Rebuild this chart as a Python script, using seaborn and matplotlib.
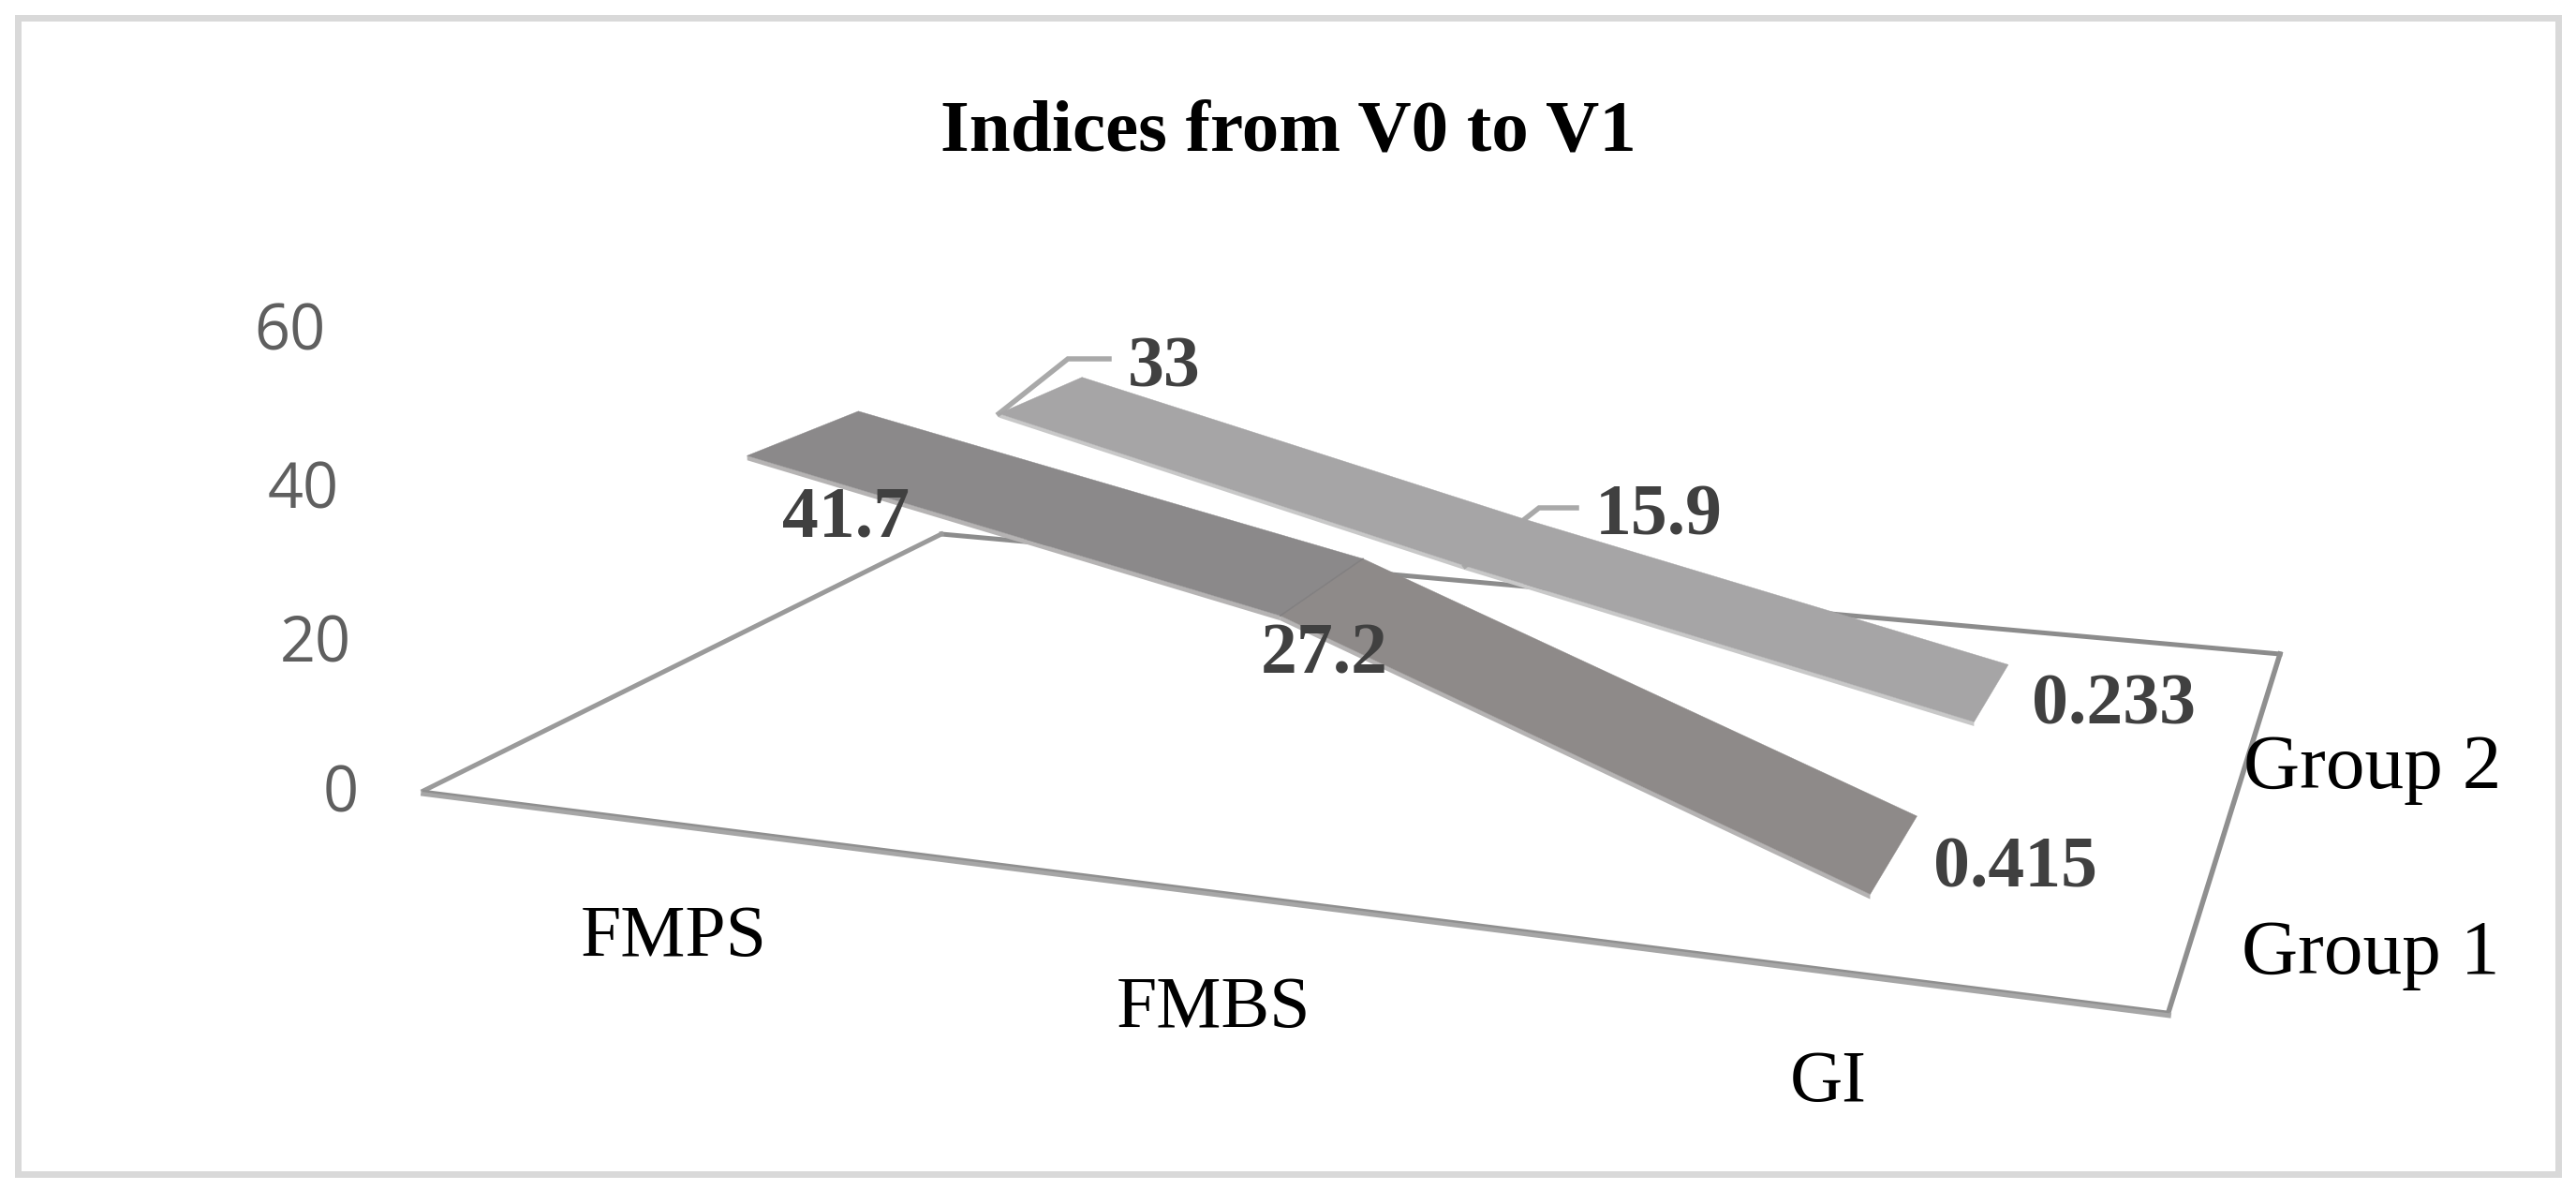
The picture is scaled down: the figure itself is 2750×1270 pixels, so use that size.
import numpy as np
import pandas as pd
import matplotlib
matplotlib.use("Agg")
import matplotlib.pyplot as plt
import seaborn as sns

# ---- data ----
title = "Indices from V0 to V1"
categories = ["FMPS", "FMBS", "GI"]
groups = ["Group 1", "Group 2"]
group1_values = [41.7, 27.2, 0.415]
group2_values = [33, 15.9, 0.233]
value_ticks = [0, 20, 40, 60]

# ---- perspective of the 3-D chart box (floor corners and vanishing point, pixels) ----
W, H = 2750, 1270
FL, FR, BR, BL = (452, 844), (2315, 1080), (2434, 698), (1005, 570)
VP = (1650.0, 14000.0)
C = -0.000602


def homography(p0, p1, p2, p3):
    x0, y0 = p0; x1, y1 = p1; x2, y2 = p2; x3, y3 = p3
    sx, sy = x0 - x1 + x2 - x3, y0 - y1 + y2 - y3
    dx1, dx2, dy1, dy2 = x1 - x2, x3 - x2, y1 - y2, y3 - y2
    den = dx1 * dy2 - dx2 * dy1
    g = (sx * dy2 - dx2 * sy) / den
    h = (dx1 * sy - sx * dy1) / den
    return np.array([[x1 - x0 + g * x1, x3 - x0 + h * x3, x0],
                     [y1 - y0 + g * y1, y3 - y0 + h * y3, y0],
                     [g, h, 1.0]])


HM = homography(FL, FR, BR, BL)
VEC = np.array([VP[0], VP[1], 1.0]) * C


def project(u, v, val=0.0):
    p = HM @ np.array([u, v, 1.0]) + VEC * val
    return p[0] / p[2], p[1] / p[2]


def cat_u(i):
    return (i + 0.5) / len(categories)


group_v = [0.265, 0.762]
half_depth = 0.102
thick = 0.6

sns.set_theme(style="white")
plt.rcParams["font.family"] = ["Liberation Serif", "DejaVu Serif"]
fig = plt.figure(figsize=(W / 100, H / 100), dpi=100, facecolor="white")
ax = fig.add_axes([0, 0, 1, 1])
ax.set_xlim(0, W)
ax.set_ylim(H, 0)
ax.axis("off")
PX = 0.72


def line(points, color, px, z):
    xs, ys = zip(*points)
    df = pd.DataFrame({"x": xs, "y": ys, "o": range(len(xs))})
    sns.lineplot(data=df, x="x", y="y", sort=False, estimator=None, color=color,
                 linewidth=px * PX, ax=ax, zorder=z, legend=False)
    ax.lines[-1].set_solid_joinstyle("miter")
    ax.lines[-1].set_solid_capstyle("projecting")


# outer chart frame
ax.add_patch(plt.Rectangle((19.5, 18.5), 2712, 1234, fill=False, ec="#d9d9d9", lw=7 * PX, zorder=1))

# floor
line([project(0, 1), project(1, 1)], "#8c8c8c", 5, 2)
line([project(0, 1), project(0, 0)], "#9a9a9a", 5, 2)
line([project(1, 1), project(1, 0)], "#8f8f8f", 5.5, 2)
line([project(0, 0, -0.35), project(1, 0, -0.35)], "#a6a6a6", 6, 2)
line([project(0, 0), project(1, 0)], "#8f8f8f", 2.5, 2)

# ribbons
series = [(group1_values, group_v[0], ["#8b898a", "#8e8a89"], "#b5b3b3"),
          (group2_values, group_v[1], ["#a6a5a6", "#a6a5a6"], "#c8c8c8")]
for vals, v, cols, edge in series:
    for i in range(len(vals) - 1):
        u0, u1 = cat_u(i), cat_u(i + 1)
        top = [project(u0, v - half_depth, vals[i]), project(u1, v - half_depth, vals[i + 1]),
               project(u1, v + half_depth, vals[i + 1]), project(u0, v + half_depth, vals[i])]
        side = [project(u0, v - half_depth, vals[i]), project(u1, v - half_depth, vals[i + 1]),
                project(u1, v - half_depth, vals[i + 1] - thick), project(u0, v - half_depth, vals[i] - thick)]
        ax.fill(*zip(*side), color=edge, lw=0, zorder=3)
        ax.fill(*zip(*top), color=cols[i], lw=0.3, zorder=4)
# faint seam of group 1 at its middle category
line([project(cat_u(1), group_v[0] - half_depth, group1_values[1]),
      project(cat_u(1), group_v[0] + half_depth, group1_values[1])], "#828081", 1.5, 5)

# leader lines of the group 2 labels
p33 = project(cat_u(0), group_v[1] - half_depth, group2_values[0])
p159 = project(cat_u(1), group_v[1] - half_depth, group2_values[1])
line([p33, (1140, 383), (1184, 383)], "#a9a9a9", 5.5, 3)
line([p159, (1643, 542), (1683, 542)], "#a9a9a9", 5.5, 3)

# data labels
label_style = dict(ha="center", va="center", fontsize=56, fontweight="bold", color="#404040", zorder=6)
for s, pos in zip(group1_values + group2_values,
                  [(903, 554), (1414, 700), (2152, 928), (1243, 394), (1771, 552), (2257, 754)]):
    ax.text(pos[0], pos[1], f"{s:g}", **label_style)

# value axis labels
for t, xoff in zip(value_ticks, [69, 63, 61, 60]):
    x, y = project(0, 0, t)
    ax.text(x - xoff, y + 5, str(t), ha="right", va="center", fontsize=48, color="#5f5f5f",
            family=["Open Sans", "DejaVu Sans"], zorder=6)

# category and series labels
for s, pos in zip(categories, [(719, 1001), (1296, 1077), (1952, 1156)]):
    ax.text(pos[0], pos[1], s, ha="center", va="center", fontsize=56, color="black", zorder=6)
for s, pos in zip(groups, [(2531, 1019), (2533, 821)]):
    ax.text(pos[0], pos[1], s, ha="center", va="center", fontsize=60, color="black", zorder=6)

ax.text(1375, 142, title, ha="center", va="center", fontsize=57, fontweight="bold", color="black", zorder=6)

fig.savefig("out.png", dpi=100)
